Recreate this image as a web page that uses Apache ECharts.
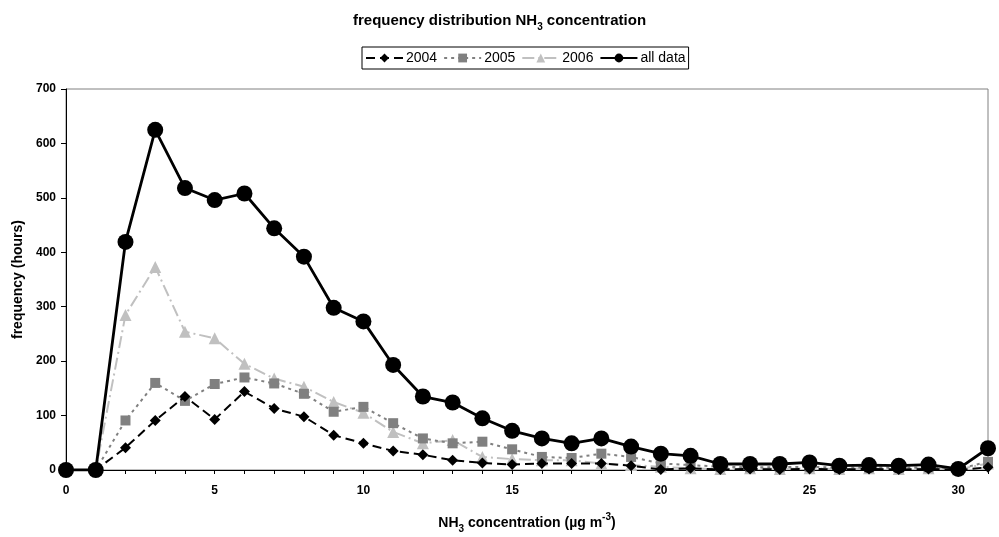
<!DOCTYPE html>
<html>
<head>
<meta charset="utf-8">
<script src="https://cdn.jsdelivr.net/npm/echarts@6/dist/echarts.min.js"></script>
<style>
  html, body { margin: 0; padding: 0; background: #fff; }
  #chart { width: 999px; height: 537px; }
</style>
</head>
<body>
<div id="chart"></div>
<script>
// NH3 concentration classes (µg m-3)
const concentration = Array.from({ length: 32 }, (_, i) => String(i));

// hours per concentration class
const y2004   = [0, 0, 41, 91, 135, 93, 144, 113, 98, 64, 49, 35, 28, 18, 13, 10, 12, 12, 12, 8, 1, 3, 1, 2, 1, 2, 1, 2, 1, 2, 0, 5];
const y2005   = [0, 0, 91, 160, 127, 158, 170, 159, 140, 107, 116, 86, 58, 49, 52, 38, 24, 22, 30, 24, 12, 9, 6, 5, 5, 6, 4, 5, 4, 5, 2, 15];
const y2006   = [0, 0, 285, 373, 254, 242, 195, 168, 153, 125, 105, 70, 49, 55, 24, 20, 18, 18, 12, 9, 6, 3, 2, 3, 2, 3, 2, 3, 2, 3, 1, 12];
const allData = [0, 0, 419, 625, 518, 496, 508, 444, 392, 298, 273, 193, 135, 124, 95, 72, 58, 49, 58, 43, 30, 26, 11, 11, 11, 14, 8, 9, 8, 10, 2, 40];

const yTicks = { min: 0, max: 700, step: 100 };

const font = 'Liberation Sans, Arial, sans-serif';

const chart = echarts.init(document.getElementById('chart'));

chart.setOption({
  animation: false,
  backgroundColor: '#fff',
  textStyle: { fontFamily: font },
  title: {
    text: '{b|frequency distribution NH}{sub|3}{b| concentration}',
    left: 'center',
    top: 3,
    textStyle: {
      rich: {
        b: { fontFamily: font, fontWeight: 'bold', fontSize: 15, color: '#000', verticalAlign: 'bottom', lineHeight: 20 },
        sub: { fontFamily: font, fontWeight: 'bold', fontSize: 10, color: '#000', verticalAlign: 'bottom', lineHeight: 14, padding: [0, 0, -4, 0] }
      }
    }
  },
  legend: {
    top: 47,
    left: 362,
    itemWidth: 37,
    itemHeight: 11,
    itemGap: 6,
    padding: [4, 3, 4, 3],
    borderColor: '#000',
    borderWidth: 1,
    borderRadius: 0,
    textStyle: { fontFamily: font, fontSize: 14, color: '#000', padding: [0, 0, 0, -2] },
    data: ['2004', '2005', '2006', 'all data']
  },
  grid: {
    left: 66,
    right: 11,
    top: 89,
    bottom: 67,
    outerBoundsMode: 'none',
    show: true,
    borderColor: '#808080',
    borderWidth: 1
  },
  xAxis: {
    type: 'category',
    data: concentration,
    boundaryGap: false,
    name: '{b|NH}{sub|3}{b| concentration (µg m}{sup|-3}{b|)}',
    nameLocation: 'middle',
    nameGap: 42,
    nameTextStyle: {
      rich: {
        b: { fontFamily: font, fontWeight: 'bold', fontSize: 14, color: '#000', verticalAlign: 'bottom', lineHeight: 18 },
        sub: { fontFamily: font, fontWeight: 'bold', fontSize: 10, color: '#000', verticalAlign: 'bottom', lineHeight: 12, padding: [0, 0, -4, 0] },
        sup: { fontFamily: font, fontWeight: 'bold', fontSize: 10, color: '#000', verticalAlign: 'top', lineHeight: 12, padding: [0, 0, 8, 0] }
      }
    },
    axisLine: { lineStyle: { color: '#000', width: 1 } },
    axisTick: { show: true, length: 4, interval: 0, lineStyle: { color: '#000' } },
    axisLabel: {
      interval: (i, v) => Number(v) % 5 === 0 && Number(v) <= 30,
      fontFamily: font,
      fontWeight: 'bold',
      fontSize: 12,
      color: '#000',
      margin: 15
    },
    splitLine: { show: false }
  },
  yAxis: {
    type: 'value',
    min: yTicks.min,
    max: yTicks.max,
    interval: yTicks.step,
    name: 'frequency (hours)',
    nameLocation: 'middle',
    nameGap: 40,
    nameTextStyle: { fontFamily: font, fontWeight: 'bold', fontSize: 14, color: '#000' },
    axisLine: { show: true, lineStyle: { color: '#000', width: 1 } },
    axisTick: { show: true, length: 5, lineStyle: { color: '#000' } },
    axisLabel: { fontFamily: font, fontWeight: 'bold', fontSize: 12, color: '#000', margin: 10 },
    splitLine: { show: false }
  },
  series: [
    {
      name: '2004',
      type: 'line',
      data: y2004,
      symbol: 'diamond',
      symbolSize: 11,
      itemStyle: { color: '#000' },
      lineStyle: { color: '#000', width: 2, type: [9, 5] },
      z: 4
    },
    {
      name: '2005',
      type: 'line',
      data: y2005,
      symbol: 'rect',
      symbolSize: 10,
      itemStyle: { color: '#808080' },
      lineStyle: { color: '#808080', width: 2, type: [3, 4] },
      z: 3
    },
    {
      name: '2006',
      type: 'line',
      data: y2006,
      symbol: 'triangle',
      symbolSize: 12,
      itemStyle: { color: '#c0c0c0' },
      lineStyle: { color: '#c0c0c0', width: 2, type: [12, 4, 2, 4] },
      z: 2
    },
    {
      name: 'all data',
      type: 'line',
      data: allData,
      symbol: 'circle',
      symbolSize: 16,
      itemStyle: { color: '#000' },
      lineStyle: { color: '#000', width: 2.8 },
      z: 5
    }
  ]
});
</script>
</body>
</html>
